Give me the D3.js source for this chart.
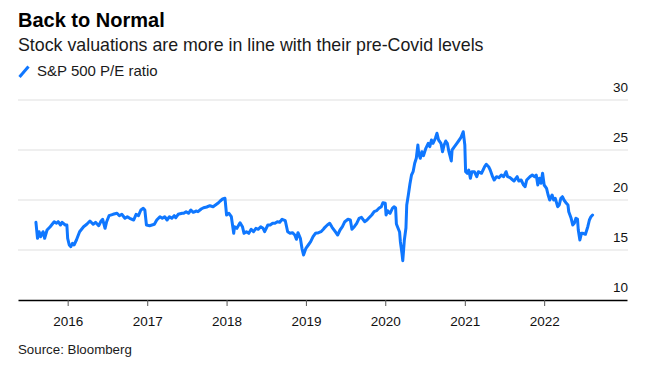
<!DOCTYPE html>
<html>
<head>
<meta charset="utf-8">
<script src="https://cdn.jsdelivr.net/npm/d3@7"></script>
<style>
  html, body { margin: 0; padding: 0; background: #fff; }
  svg { display: block; font-family: "Liberation Sans", Arial, Helvetica, sans-serif; }
</style>
</head>
<body>
<div id="chart"></div>
<script>
// ---- Data (dates as decimal years, values = S&P 500 P/E ratio) ----
const titleText = "Back to Normal";
const subtitleText = "Stock valuations are more in line with their pre-Covid levels";
const legendLabel = "S&P 500 P/E ratio";
const sourceText = "Source: Bloomberg";

const xTickYears = [2016, 2017, 2018, 2019, 2020, 2021, 2022];
const yTicks = [10, 15, 20, 25, 30];

const dates = [
2015.60,2015.62,2015.64,2015.66,2015.69,2015.71,2015.74,2015.78,2015.83,2015.86,2015.88,2015.91,2015.93,2015.97,2015.99,
2016.00,2016.02,2016.04,2016.06,2016.08,2016.11,2016.15,2016.20,2016.24,2016.28,2016.32,2016.35,2016.39,2016.42,2016.44,
2016.47,2016.49,2016.52,2016.57,2016.62,2016.65,2016.68,2016.72,2016.75,2016.78,2016.83,2016.86,2016.89,2016.92,2016.95,
2016.97,2016.99,2017.03,2017.06,2017.09,2017.12,2017.16,2017.19,2017.22,2017.25,2017.28,2017.31,2017.34,2017.36,2017.39,
2017.44,2017.46,2017.49,2017.52,2017.55,2017.58,2017.62,2017.64,2017.68,2017.71,2017.75,2017.79,2017.83,2017.86,2017.89,
2017.92,2017.95,2017.98,2018.00,2018.03,2018.06,2018.09,2018.10,2018.13,2018.17,2018.20,2018.22,2018.25,2018.28,2018.31,
2018.34,2018.37,2018.40,2018.43,2018.46,2018.48,2018.52,2018.55,2018.58,2018.61,2018.64,2018.67,2018.70,2018.74,2018.77,
2018.80,2018.83,2018.86,2018.88,2018.90,2018.93,2018.95,2018.97,2019.00,2019.03,2019.06,2019.09,2019.12,2019.16,2019.19,
2019.22,2019.24,2019.27,2019.30,2019.33,2019.37,2019.40,2019.43,2019.46,2019.49,2019.53,2019.56,2019.58,2019.61,2019.64,
2019.67,2019.70,2019.74,2019.77,2019.79,2019.83,2019.86,2019.89,2019.92,2019.95,2019.97,2020.00,2020.01,2020.03,2020.06,
2020.09,2020.11,2020.13,2020.14,2020.16,2020.18,2020.19,2020.21,2020.22,2020.24,2020.26,2020.27,2020.29,2020.31,2020.33,
2020.35,2020.37,2020.39,2020.41,2020.42,2020.44,2020.46,2020.48,2020.51,2020.54,2020.56,2020.58,2020.60,2020.63,2020.65,
2020.67,2020.70,2020.72,2020.74,2020.76,2020.78,2020.80,2020.83,2020.84,2020.87,2020.90,2020.93,2020.95,2020.98,2021.00,
2021.01,2021.03,2021.05,2021.07,2021.09,2021.12,2021.15,2021.17,2021.21,2021.23,2021.25,2021.27,2021.30,2021.32,2021.35,
2021.37,2021.40,2021.43,2021.46,2021.49,2021.52,2021.54,2021.57,2021.59,2021.62,2021.66,2021.68,2021.71,2021.74,2021.76,
2021.78,2021.82,2021.85,2021.88,2021.90,2021.92,2021.94,2021.96,2021.98,2022.00,2022.03,2022.05,2022.07,2022.10,2022.12,
2022.14,2022.17,2022.19,2022.21,2022.23,2022.25,2022.28,2022.30,2022.31,2022.34,2022.36,2022.38,2022.40,2022.42,2022.43,
2022.45,2022.47,2022.49,2022.52,2022.55,2022.57,2022.59,2022.61
];

const peRatio = [
17.77,16.17,16.83,16.33,16.83,16.17,17.0,17.33,17.83,17.67,17.83,17.5,17.77,17.5,17.5,
16.17,15.5,15.33,15.67,15.5,16.0,16.83,17.33,17.57,17.9,17.57,17.77,17.43,17.9,18.07,
17.17,17.83,18.43,18.57,18.67,18.43,18.57,18.17,18.33,18.17,18.0,18.57,18.43,19.0,19.17,
19.0,17.5,17.43,17.5,17.57,18.0,18.33,18.17,18.33,18.0,18.33,18.17,18.43,18.23,18.57,
18.67,18.67,18.83,18.67,19.0,18.77,18.9,18.83,19.1,19.23,19.3,19.43,19.33,19.5,19.67,
19.9,20.1,20.17,18.5,18.67,18.33,16.67,17.33,17.17,17.73,17.33,16.67,16.83,16.67,17.07,
16.83,17.17,17.07,17.33,17.17,16.83,17.5,17.5,17.67,17.67,17.83,17.77,18.07,17.93,16.83,
16.67,16.73,16.5,16.07,16.73,16.17,15.17,14.5,15.17,15.5,15.83,16.33,16.67,16.73,16.83,
17.07,17.27,17.5,17.67,17.27,16.83,16.5,17.0,17.33,17.83,18.07,18.0,17.07,17.33,17.67,
18.17,18.27,17.83,18.0,18.17,18.5,18.83,18.93,19.17,19.33,19.73,19.67,18.5,18.93,18.67,
19.17,19.33,19.2,17.6,17.2,16.8,15.83,14.67,13.93,16.0,17.2,19.5,20.5,21.6,22.5,
22.83,23.67,24.17,25.5,24.67,24.17,24.83,24.43,25.17,25.67,25.33,26.0,25.67,26.17,26.67,
26.0,25.67,24.83,25.5,25.9,25.67,24.83,23.9,25.0,25.33,25.67,26.0,26.23,26.83,25.5,
22.83,22.67,23.0,22.17,22.83,22.83,22.33,22.83,22.67,23.0,23.33,23.57,23.33,23.0,22.33,
22.0,22.33,22.23,22.5,22.33,22.83,22.33,22.23,22.1,21.9,22.33,21.9,22.0,21.5,21.33,
22.0,22.33,22.5,22.33,22.5,21.5,22.17,21.67,22.67,21.5,21.17,20.5,20.0,20.5,20.0,
20.17,19.33,19.5,20.17,20.33,20.0,19.67,19.5,18.83,18.17,17.5,17.67,18.17,18.1,17.0,
16.0,16.67,16.67,16.57,17.33,18.0,18.33,18.5
];

// ---- Helpers ----
function decToDate(y) {
  const yr = Math.floor(y);
  const start = new Date(yr, 0, 1), end = new Date(yr + 1, 0, 1);
  return new Date(start.getTime() + (y - yr) * (end - start));
}

const W = 645, H = 366;
const plot = { left: 18, right: 627, top: 100, bottom: 300 };

const svg = d3.select("#chart").append("svg")
  .attr("width", W).attr("height", H);

const x = d3.scaleTime()
  .domain([decToDate(2015.374), decToDate(2023.044)])
  .range([plot.left, plot.right]);

const y = d3.scaleLinear()
  .domain([10, 30])
  .range([plot.bottom, plot.top]);

// ---- Header ----
svg.append("text").attr("x", 18).attr("y", 26.5)
  .attr("font-size", 20).attr("font-weight", "bold").attr("fill", "#000")
  .text(titleText);
svg.append("text").attr("x", 18).attr("y", 51)
  .attr("font-size", 17.8).attr("fill", "#1a1a1a")
  .text(subtitleText);

// legend
svg.append("line").attr("x1", 19.5).attr("y1", 77).attr("x2", 28.5).attr("y2", 66.5)
  .attr("stroke", "#0f77ff").attr("stroke-width", 3).attr("stroke-linecap", "butt");
svg.append("text").attr("x", 37).attr("y", 76)
  .attr("font-size", 15).attr("fill", "#1a1a1a")
  .text(legendLabel);

// ---- Gridlines & y labels ----
const grid = svg.append("g");
yTicks.filter(v => v !== 10).forEach(v => {
  grid.append("line")
    .attr("x1", plot.left).attr("x2", plot.right + 1)
    .attr("y1", y(v)).attr("y2", y(v))
    .attr("stroke", "#efefef").attr("stroke-width", 2);
});
yTicks.forEach(v => {
  svg.append("text")
    .attr("x", plot.right + 1).attr("y", y(v) - 8)
    .attr("text-anchor", "end")
    .attr("font-size", 13.5).attr("fill", "#111")
    .text(v);
});

// ---- Line ----
const series = dates.map((d, i) => ({ date: decToDate(d), value: peRatio[i] }));
svg.append("path")
  .datum(series)
  .attr("fill", "none")
  .attr("stroke", "#0f77ff")
  .attr("stroke-width", 3)
  .attr("stroke-linejoin", "round")
  .attr("stroke-linecap", "round")
  .attr("d", d3.line().x(d => x(d.date)).y(d => y(d.value)));

// ---- X axis ----
const xAxis = d3.axisBottom(x)
  .tickValues(xTickYears.map(yy => new Date(yy, 0, 1)))
  .tickFormat(d3.timeFormat("%Y"))
  .tickSize(6)
  .tickSizeOuter(0)
  .tickPadding(10);

const gx = svg.append("g")
  .attr("transform", `translate(0,${plot.bottom})`)
  .call(xAxis);
gx.select(".domain").attr("stroke", "#000").attr("stroke-width", 1.5);
gx.selectAll(".tick line").attr("stroke", "#555").attr("stroke-width", 1);
gx.selectAll(".tick text")
  .attr("font-family", "Liberation Sans, Arial, sans-serif")
  .attr("font-size", 13.5).attr("fill", "#111")
  .attr("dy", null).attr("y", 25.7);

// ---- Source ----
svg.append("text").attr("x", 18).attr("y", 354)
  .attr("font-size", 13.3).attr("fill", "#1a1a1a")
  .text(sourceText);
</script>
</body>
</html>
